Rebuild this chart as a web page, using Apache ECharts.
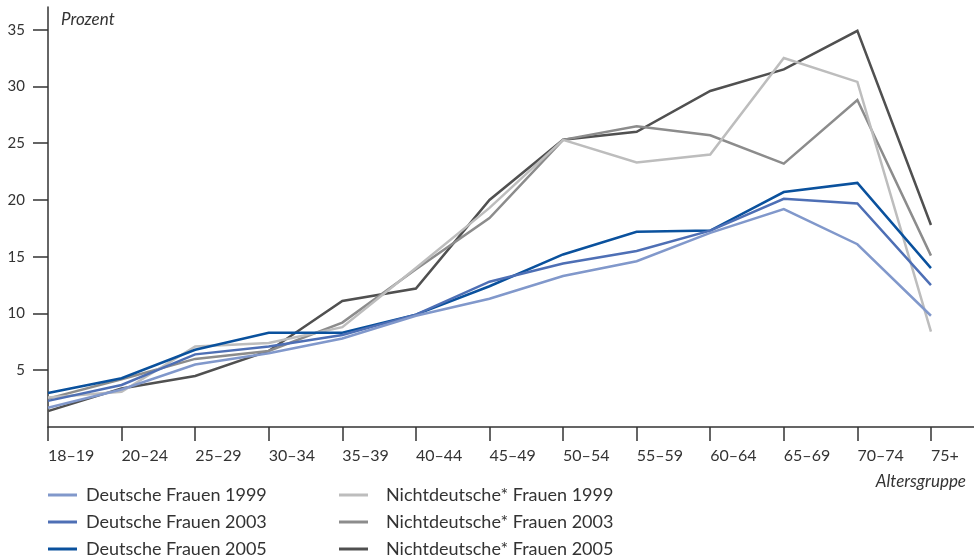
<!DOCTYPE html>
<html>
<head>
<meta charset="utf-8">
<title>Altersgruppen</title>
<script src="https://cdn.jsdelivr.net/npm/echarts@6/dist/echarts.min.js"></script>
<style>
  html, body { margin: 0; padding: 0; background: #fff; }
  #chart { width: 974px; height: 558px; }
</style>
</head>
<body>
<div id="chart"></div>
<script>
// Altersgruppen (x-Achse)
var categories = ['18–19', '20–24', '25–29', '30–34', '35–39', '40–44', '45–49',
                  '50–54', '55–59', '60–64', '65–69', '70–74', '75+'];

// y-Achse
var yTicks = [5, 10, 15, 20, 25, 30, 35];

// Werte in Prozent
var de1999 = [1.7, 3.3, 5.5, 6.5, 7.8, 9.8, 11.3, 13.3, 14.6, 17.1, 19.2, 16.1, 9.8];
var de2003 = [2.3, 3.7, 6.4, 7.1, 8.1, 9.9, 12.8, 14.4, 15.5, 17.3, 20.1, 19.7, 12.5];
var de2005 = [3.0, 4.3, 6.8, 8.3, 8.3, 9.9, 12.4, 15.2, 17.2, 17.3, 20.7, 21.5, 14.0];
var nd1999 = [2.6, 3.1, 7.1, 7.4, 8.8, 14.0, 19.3, 25.3, 23.3, 24.0, 32.5, 30.4, 8.4];
var nd2003 = [2.5, 4.2, 6.0, 6.7, 9.2, 13.9, 18.4, 25.3, 26.5, 25.7, 23.2, 28.8, 15.1];
var nd2005 = [1.4, 3.4, 4.5, 6.7, 11.1, 12.2, 20.0, 25.3, 26.0, 29.6, 31.5, 34.9, 17.8];

var names = ['Deutsche Frauen 1999', 'Deutsche Frauen 2003', 'Deutsche Frauen 2005',
             'Nichtdeutsche* Frauen 1999', 'Nichtdeutsche* Frauen 2003', 'Nichtdeutsche* Frauen 2005'];
var values = [de1999, de2003, de2005, nd1999, nd2003, nd2005];
var colors = ['#8198cb', '#4e6fb5', '#0a519d', '#bdbdbd', '#8c8c8c', '#505050'];

var fontFamily = 'Lato, "Open Sans", sans-serif';
var textColor = '#333';

var myChart = echarts.init(document.getElementById('chart'), null, { renderer: 'canvas' });

// Serien aus den Arrays bauen
var series = [];
for (var i = 0; i < names.length; i++) {
    series.push({
        name: names[i],
        type: 'line',
        symbol: 'none',
        z: 10 - i,
        lineStyle: { color: colors[i], width: 2.5, join: 'miter' },
        itemStyle: { color: colors[i] },
        data: values[i].map(function (v, k) { return [k, v]; })
    });
}

// eine Legende je Eintrag, zwei Spalten zu je drei Zeilen
var legends = [];
for (var j = 0; j < names.length; j++) {
    var col = j < 3 ? 0 : 1;
    var row = j % 3;
    legends.push({
        left: col ? 339 : 48,
        top: 485 + row * 27,
        itemWidth: 29,
        itemHeight: 3,
        icon: 'rect',
        selectedMode: false,
        padding: 0,
        data: [names[j]],
        textStyle: {
            fontFamily: fontFamily,
            fontSize: 18,
            color: textColor,
            lineHeight: 20,
            padding: [0, 0, 0, col ? 13 : 4]
        }
    });
}

var option = {
    animation: false,
    color: colors,
    grid: {
        left: 48,
        right: 0,
        top: 7,
        bottom: 131,
        containLabel: false
    },
    legend: legends,
    xAxis: {
        type: 'value',
        min: 0,
        max: 12.585,
        interval: 1,
        splitLine: { show: false },
        axisLine: { lineStyle: { color: textColor, width: 1.5 } },
        axisTick: {
            length: 14,
            lineStyle: { color: textColor, width: 1.5 },
            customValues: categories.map(function (c, k) { return k; })
        },
        axisLabel: {
            margin: 21,
            align: 'left',
            fontFamily: fontFamily,
            fontSize: 16,
            color: textColor,
            customValues: categories.map(function (c, k) { return k; }),
            formatter: function (v) { return categories[Math.round(v)]; }
        }
    },
    yAxis: {
        type: 'value',
        min: 0,
        max: 37,
        interval: 5,
        splitLine: { show: false },
        axisLine: { show: true, lineStyle: { color: textColor, width: 1.5 } },
        axisTick: {
            show: true,
            length: 15,
            lineStyle: { color: textColor, width: 1.5 },
            customValues: yTicks
        },
        axisLabel: {
            margin: 23,
            fontFamily: fontFamily,
            fontSize: 15,
            color: textColor,
            customValues: yTicks
        }
    },
    graphic: [{
        type: 'text',
        left: 61,
        top: 11,
        style: {
            text: 'Prozent',
            font: 'italic 17px ' + fontFamily,
            fill: textColor
        }
    }, {
        type: 'text',
        right: 8,
        top: 473,
        style: {
            text: 'Altersgruppe',
            font: 'italic 17px ' + fontFamily,
            fill: textColor
        }
    }],
    series: series
};

myChart.setOption(option);
</script>
</body>
</html>
